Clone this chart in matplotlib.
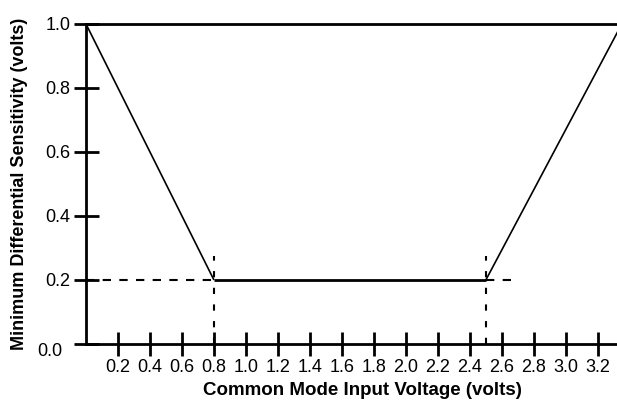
import matplotlib
matplotlib.use("Agg")
import matplotlib.pyplot as plt

plt.rcParams['font.family'] = ['Liberation Sans', 'DejaVu Sans']

# sensitivity envelope (volts)
fall_x = [0.0, 0.8]
fall_y = [1.0, 0.2]
flat_x = [0.8, 2.5]
flat_y = [0.2, 0.2]
rise_x = [2.5, 3.35]
rise_y = [0.2, 1.0]

# guide marks at the corners
guide_level = 0.2
guide_h_left = [0.0, 0.8]
guide_h_right = [2.5, 2.66]
guide_v_x = [0.8, 2.5]
guide_v_top = 0.275

xticks = [0.2, 0.4, 0.6, 0.8, 1.0, 1.2, 1.4, 1.6, 1.8, 2.0, 2.2, 2.4, 2.6, 2.8, 3.0, 3.2]
yticks = [0.0, 0.2, 0.4, 0.6, 0.8, 1.0]

fig = plt.figure(figsize=(6.17, 4.0), dpi=100)
ax = fig.add_axes([86 / 617, 56 / 400, 1 - 86 / 617, 320 / 400])

ax.plot(fall_x, fall_y, color='black', lw=1.2, solid_capstyle='butt', clip_on=False)
ax.plot(flat_x, flat_y, color='black', lw=2.0, solid_capstyle='butt')
ax.plot(rise_x, rise_y, color='black', lw=1.2, solid_capstyle='butt')

ax.plot(guide_h_left, [guide_level] * 2, color='black', lw=1.5, ls=(0, (4, 4)))
ax.plot(guide_h_right, [guide_level] * 2, color='black', lw=1.5, ls=(0, (4, 4)))
for gx in guide_v_x:
    ax.plot([gx, gx], [0, guide_v_top], color='black', lw=1.5, ls=(0, (3, 5)))

ax.set_xlim(0, 3.32)
ax.set_ylim(0, 1.0)

for side in ['left', 'bottom', 'top']:
    ax.spines[side].set_linewidth(2)
ax.spines['right'].set_visible(False)

ax.set_xticks(xticks)
ax.set_xticklabels([f"{v:.1f}" for v in xticks], fontsize=13)
ax.set_yticks(yticks)
ax.set_yticklabels([f"{v:.1f}" if v > 0 else "" for v in yticks], fontsize=13)
ax.tick_params(axis='x', direction='inout', length=17, width=2, pad=2)
ax.tick_params(axis='y', direction='inout', length=18, width=2, pad=2)
ax.text(-0.045, -0.025, "0.0", transform=ax.transAxes, ha='right', va='center', fontsize=13)

ax.set_xlabel("Common Mode Input Voltage (volts)", fontsize=13.5, fontweight='bold')
ax.xaxis.set_label_coords(0.52, -0.118)
ax.set_ylabel("Minimum Differential Sensitivity (volts)", fontsize=13, fontweight='bold', labelpad=13)

fig.savefig("out.png", dpi=100)
